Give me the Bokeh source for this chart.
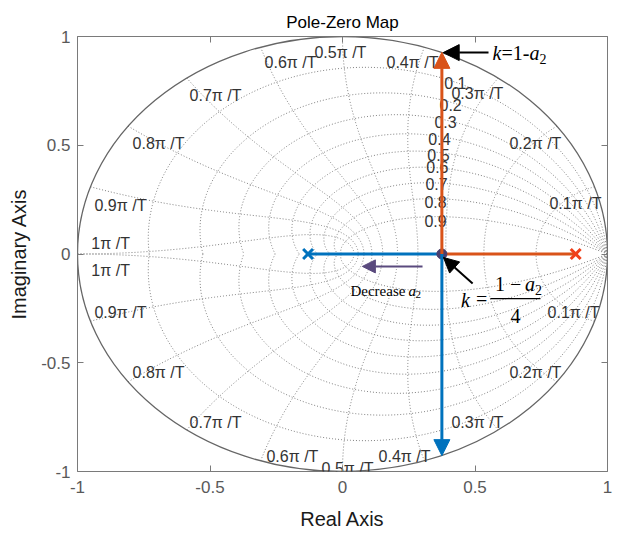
import numpy as np
from bokeh.plotting import figure
from bokeh.models import Arrow, NormalHead, LinearAxis, FixedTicker
from bokeh.core.properties import value
from bokeh.embed import file_html
from bokeh.resources import INLINE

# ---------------- data ----------------
zeta_values = [0.1, 0.2, 0.3, 0.4, 0.5, 0.6, 0.7, 0.8, 0.9]
wn_values = [0.1, 0.2, 0.3, 0.4, 0.5, 0.6, 0.7, 0.8, 0.9, 1.0]   # x pi/T
pole_blue = -0.13
pole_red = 0.88
tick_values = [-1, -0.5, 0, 0.5, 1]
tick_labels = ["-1", "-0.5", "0", "0.5", "1"]

zeta_labels = [f"{z:.1f}" for z in zeta_values]
wn_labels = [f"{w:g}\u03c0 /T" for w in wn_values]

# label placement (layout)
zeta_lab_x = [0.426, 0.408, 0.389, 0.366, 0.362, 0.358, 0.355, 0.351, 0.351]
zeta_lab_y = [0.784, 0.687, 0.609, 0.531, 0.453, 0.398, 0.320, 0.237, 0.154]
wn_up_x = [0.879, 0.728, 0.509, 0.264, -0.008, -0.196, -0.479, -0.694, -0.838, -0.875]
wn_up_y = [0.232, 0.508, 0.738, 0.880, 0.926, 0.880, 0.729, 0.508, 0.223, 0.048]
wn_lo_x = [0.872, 0.728, 0.509, 0.234, 0.019, -0.189, -0.479, -0.694, -0.838, -0.875]
wn_lo_y = [-0.269, -0.545, -0.775, -0.931, -0.986, -0.931, -0.775, -0.545, -0.269, -0.076]

breakaway = (pole_blue + pole_red) / 2.0
top_end = np.sqrt(1 - breakaway ** 2)

SANS = value("Liberation Sans")
SERIF = value("Liberation Serif")

p = figure(width=624, height=535, x_range=(-1, 1), y_range=(-1, 1),
           output_backend="svg", toolbar_location=None,
           min_border_left=77, min_border_right=17,
           min_border_top=36, min_border_bottom=64,
           title="Pole-Zero Map")
p.background_fill_color = "white"
p.border_fill_color = "white"
p.grid.visible = False
p.outline_line_color = "#7a7a7a"
p.outline_line_width = 1

p.title.align = "center"
p.title.text_font = "Liberation Sans"
p.title.text_font_size = "17px"
p.title.text_font_style = "normal"
p.title.text_color = "#000000"

ticker = FixedTicker(ticks=tick_values)
overrides = {v: l for v, l in zip(tick_values, tick_labels)}
for ax in (p.xaxis[0], p.yaxis[0]):
    ax.ticker = ticker
    ax.major_label_overrides = overrides
    ax.axis_line_color = None
    ax.major_tick_in = 6
    ax.major_tick_out = 0
    ax.major_tick_line_color = "#7a7a7a"
    ax.minor_tick_line_color = None
    ax.major_label_text_font = "Liberation Sans"
    ax.major_label_text_font_size = "17px"
    ax.major_label_text_color = "#595959"
    ax.axis_label_text_font = "Liberation Sans"
    ax.axis_label_text_font_size = "20px"
    ax.axis_label_text_font_style = "normal"
    ax.axis_label_text_color = "#1a1a1a"
p.xaxis[0].axis_label = "Real Axis"
p.yaxis[0].axis_label = "Imaginary Axis"
p.xaxis[0].major_label_standoff = 9
p.yaxis[0].major_label_standoff = 7
p.xaxis[0].axis_label_standoff = 12
p.yaxis[0].axis_label_standoff = 8

for loc in ("above", "right"):
    ax = LinearAxis(ticker=FixedTicker(ticks=tick_values), axis_line_color=None,
                    major_tick_in=6, major_tick_out=0,
                    major_tick_line_color="#7a7a7a", minor_tick_line_color=None,
                    major_label_overrides={v: "" for v in tick_values},
                    major_label_text_color=None,
                    major_label_text_font_size="1px", major_label_standoff=0)
    p.add_layout(ax, loc)

# ---------------- z-grid ----------------
gx, gy = [], []
for z in zeta_values:
    m = z / np.sqrt(1 - z * z)
    th = np.linspace(0, np.pi, 400)
    zz = np.exp(th * (-m + 1j))
    gx += [zz.real, zz.real]
    gy += [zz.imag, -zz.imag]
for w in wn_values:
    phi = np.linspace(np.pi / 2, np.pi, 400)
    zz = np.exp(w * np.pi * np.exp(1j * phi))
    gx += [zz.real, zz.real]
    gy += [zz.imag, -zz.imag]
p.multi_line(gx, gy, line_color="#7f7f7f", line_dash="1 2", line_width=1)

# unit circle
p.ellipse(x=0, y=0, width=2, height=2, fill_color=None,
          line_color="#666666", line_width=1.3)

# grid labels
for xs_, ys_, tx_ in ((zeta_lab_x, zeta_lab_y, zeta_labels),
                      (wn_up_x, wn_up_y, wn_labels),
                      (wn_lo_x, wn_lo_y, wn_labels)):
    p.text(x=xs_, y=ys_, text=tx_, text_font=SANS,
           text_font_size="16px", text_color="#333333",
           text_align="center", text_baseline="middle")

# ---------------- root locus ----------------
ORANGE = "#D95319"
BLUE = "#0072BD"
p.line(x=[breakaway, pole_red], y=[0, 0], line_color=ORANGE, line_width=3)
p.line(x=[pole_blue, breakaway], y=[0, 0], line_color=BLUE, line_width=3)
p.add_layout(Arrow(x_start=breakaway, y_start=0, x_end=breakaway, y_end=top_end,
                   line_color=ORANGE, line_width=3,
                   end=NormalHead(size=16, fill_color=ORANGE, line_color=ORANGE)))
p.add_layout(Arrow(x_start=breakaway, y_start=0, x_end=breakaway, y_end=-top_end,
                   line_color=BLUE, line_width=3,
                   end=NormalHead(size=16, fill_color=BLUE, line_color=BLUE)))
p.scatter(x=[pole_blue], y=[0], marker="x", size=14, line_width=3, line_color=BLUE)
p.scatter(x=[pole_red], y=[0], marker="x", size=14, line_width=3, line_color="#F0401A")
p.scatter(x=[breakaway], y=[0], marker="circle", size=10,
          fill_color="#4B3F6E", line_color="#4B3F6E")

# ---------------- annotations ----------------
# k = 1 - a2
p.add_layout(Arrow(x_start=0.551, y_start=0.926, x_end=0.38, y_end=0.926,
                   line_color="black", line_width=2,
                   end=NormalHead(size=16, fill_color="black", line_color="black")))
p.text(x=[0.566], y=[0.926], text=["k"], text_font=SERIF, text_font_style="italic",
       text_font_size="20px", text_align="left", text_baseline="middle")
p.text(x=[0.566], y=[0.926], text=["=1-"], text_font=SERIF, x_offset=9,
       text_font_size="20px", text_align="left", text_baseline="middle")
p.text(x=[0.566], y=[0.926], text=["a"], text_font=SERIF, text_font_style="italic",
       x_offset=37, text_font_size="20px", text_align="left", text_baseline="middle")
p.text(x=[0.566], y=[0.926], text=["2"], text_font=SERIF, x_offset=47, y_offset=6,
       text_font_size="14px", text_align="left", text_baseline="middle")

# k = (1 - a2)/4
p.add_layout(Arrow(x_start=0.491, y_start=-0.136, x_end=0.381, y_end=-0.016,
                   line_color="black", line_width=2,
                   end=NormalHead(size=15, fill_color="black", line_color="black")))
p.text(x=[0.464], y=[-0.212], text=["k"], text_font=SERIF, text_font_style="italic",
       text_font_size="20px", text_align="center", text_baseline="middle")
p.text(x=[0.525], y=[-0.205], text=["="], text_font=SERIF,
       text_font_size="20px", text_align="center", text_baseline="middle")
p.segment(x0=[0.558], y0=[-0.205], x1=[0.747], y1=[-0.205], line_color="black", line_width=1.2)
p.text(x=[0.575], y=[-0.136], text=["1 \u2212 "], text_font=SERIF,
       text_font_size="20px", text_align="left", text_baseline="middle")
p.text(x=[0.575], y=[-0.136], text=["a"], text_font=SERIF, text_font_style="italic",
       x_offset=30, text_font_size="20px", text_align="left", text_baseline="middle")
p.text(x=[0.575], y=[-0.136], text=["2"], text_font=SERIF,
       x_offset=40, y_offset=6, text_font_size="14px", text_align="left", text_baseline="middle")
p.text(x=[0.653], y=[-0.285], text=["4"], text_font=SERIF,
       text_font_size="20px", text_align="center", text_baseline="middle")

# Decrease a2
PURPLE = "#5A4A7E"
p.add_layout(Arrow(x_start=0.302, y_start=-0.057, x_end=0.075, y_end=-0.057,
                   line_color=PURPLE, line_width=2,
                   end=NormalHead(size=13, fill_color=PURPLE, line_color=PURPLE)))
p.text(x=[0.030], y=[-0.168], text=["Decrease"], text_font=SERIF,
       text_font_size="15px", text_align="left", text_baseline="middle")
p.text(x=[0.030], y=[-0.168], text=["a"], text_font=SERIF, text_font_style="italic",
       x_offset=58, text_font_size="15px", text_align="left", text_baseline="middle")
p.text(x=[0.030], y=[-0.168], text=["2"], text_font=SERIF,
       x_offset=65, y_offset=4, text_font_size="11px", text_align="left", text_baseline="middle")

open("out.html", "w").write(file_html(p, INLINE))
